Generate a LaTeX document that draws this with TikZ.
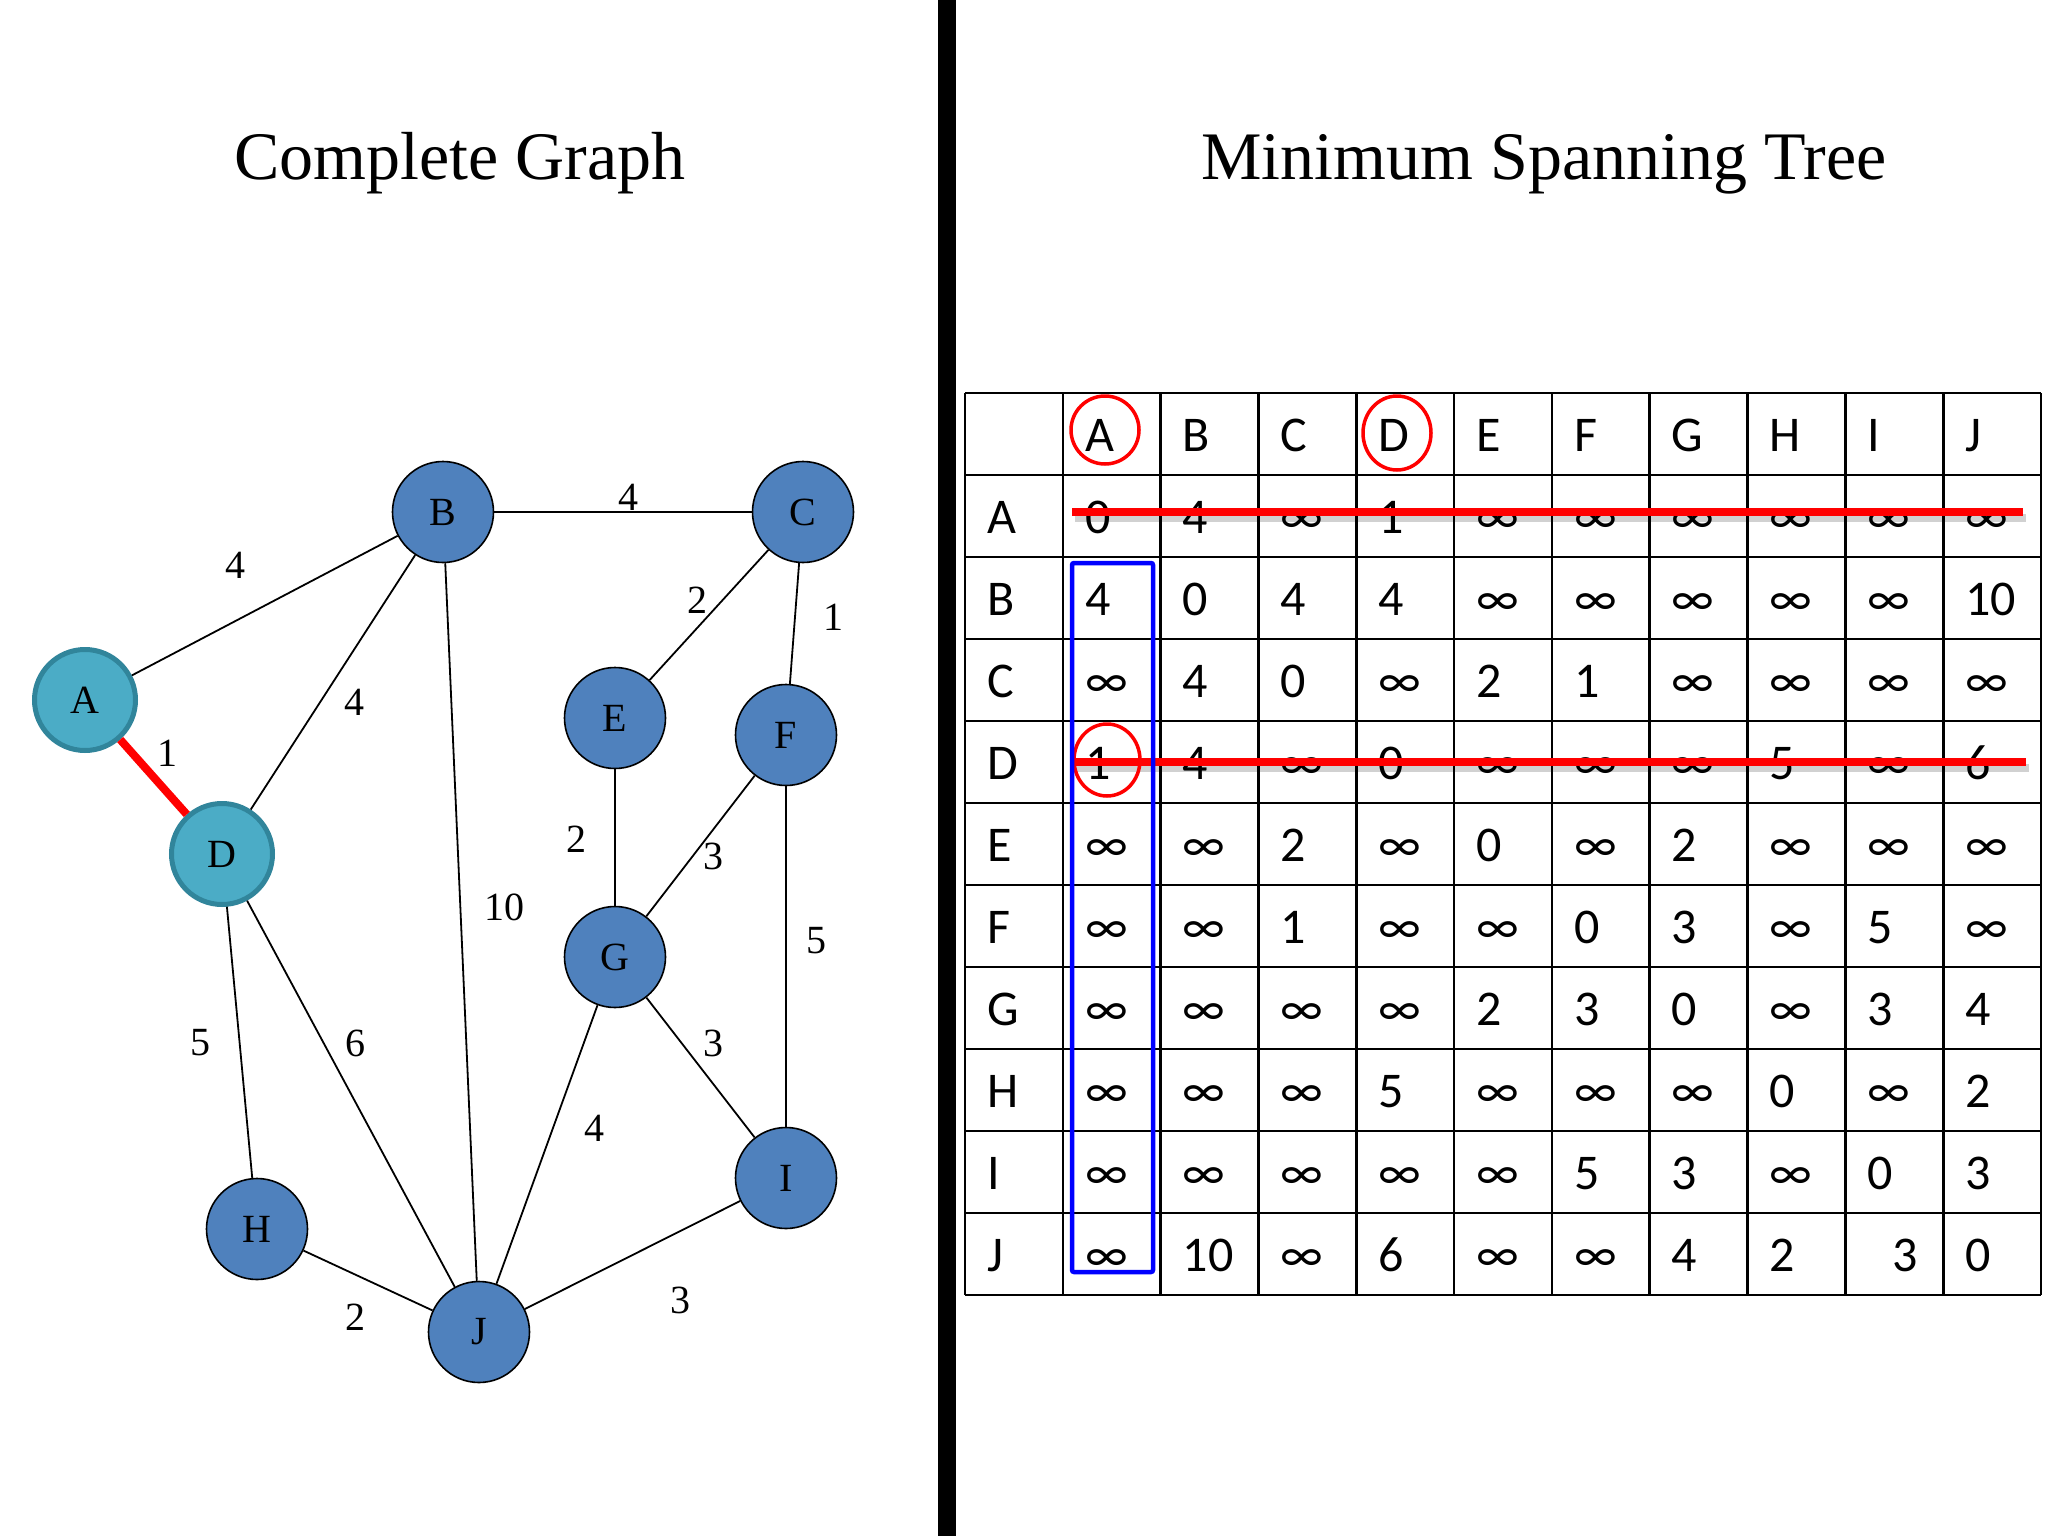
\documentclass[tikz,border=0pt]{standalone}
\usepackage{fontspec}
\usetikzlibrary{shapes.geometric}
\setmainfont{Liberation Serif}
\newfontfamily\tabfont{Carlito}
\newcommand\infsym{∞}
\definecolor{nodeblue}{RGB}{79,129,189}
\definecolor{nodeteal}{RGB}{75,172,198}
\definecolor{tealedge}{RGB}{49,133,155}
\definecolor{strikered}{RGB}{255,0,0}
\tikzset{
  gnode/.style={circle, minimum size=101pt, inner sep=0pt, fill=nodeblue, draw=black, line width=1.6pt, font=\fontsize{40}{48}\selectfont},
  tnode/.style={gnode, fill=nodeteal, draw=tealedge, line width=5pt},
  edge/.style={draw=black, line width=1.8pt},
  redge/.style={draw=strikered, line width=8pt},
  wlabel/.style={inner sep=0pt, font=\fontsize{40}{48}\selectfont},
  title/.style={anchor=base, inner sep=0pt, font=\fontsize{68}{80}\selectfont},
  cell/.style={anchor=base west, inner sep=0pt, font=\tabfont\fontsize{50}{60}\selectfont},
  grid/.style={draw=black, line width=2.6pt},
  strike/.style={draw=strikered, line width=8pt},
  shadowline/.style={draw=black, opacity=0.18, line width=8pt},
  ring/.style={draw=strikered, line width=3.5pt, ellipse, inner sep=0pt},
}
\begin{document}
\begin{tikzpicture}[x=1pt,y=-1pt]
\useasboundingbox[fill=white] (0,0) rectangle (2048,1536);
% divider
\fill[black] (938,0) rectangle (956,1536);
% titles
\node[title] (t1) at (460,179) {Complete Graph};
\node[title] (t2) at (1544,179) {Minimum Spanning Tree};
% graph nodes
\node[tnode] (A) at (85,700) {A};
\node[gnode] (B) at (443,512) {B};
\node[gnode] (C) at (803,512) {C};
\node[tnode] (D) at (222,854) {D};
\node[gnode] (E) at (615,718) {E};
\node[gnode] (F) at (786,735) {F};
\node[gnode] (G) at (615,957) {G};
\node[gnode] (H) at (257,1229) {H};
\node[gnode] (I) at (786,1178) {I};
\node[gnode] (J) at (479,1332) {J};
% edges
\draw[edge] (A) -- (B);
\draw[redge] (A) -- (D);
\draw[edge] (B) -- (C);
\draw[edge] (B) -- (D);
\draw[edge] (B) -- (J);
\draw[edge] (C) -- (E);
\draw[edge] (C) -- (F);
\draw[edge] (E) -- (G);
\draw[edge] (F) -- (G);
\draw[edge] (F) -- (I);
\draw[edge] (D) -- (H);
\draw[edge] (D) -- (J);
\draw[edge] (G) -- (I);
\draw[edge] (G) -- (J);
\draw[edge] (H) -- (J);
\draw[edge] (J) -- (I);
% edge labels
\node[wlabel] (lAB) at (235,565) {4};
\node[wlabel] (lAD) at (167,753) {1};
\node[wlabel] (lBC) at (628,497) {4};
\node[wlabel] (lBD) at (354,702) {4};
\node[wlabel] (lCE) at (697,600) {2};
\node[wlabel] (lCF) at (833,617) {1};
\node[wlabel] (lBJ) at (504,907) {10};
\node[wlabel] (lEG) at (576,839) {2};
\node[wlabel] (lFG) at (713,856) {3};
\node[wlabel] (lFI) at (816,941) {5};
\node[wlabel] (lDH) at (200,1043) {5};
\node[wlabel] (lDJ) at (355,1043) {6};
\node[wlabel] (lGI) at (713,1043) {3};
\node[wlabel] (lGJ) at (594,1128) {4};
\node[wlabel] (lHJ) at (355,1317) {2};
\node[wlabel] (lJI) at (680,1300) {3};
% table text
\foreach [count=\r from 0] \row in {
  {{},A,B,C,D,E,F,G,H,I,J},
  {A,0,4,\infsym,1,\infsym,\infsym,\infsym,\infsym,\infsym,\infsym},
  {B,4,0,4,4,\infsym,\infsym,\infsym,\infsym,\infsym,10},
  {C,\infsym,4,0,\infsym,2,1,\infsym,\infsym,\infsym,\infsym},
  {D,1,4,\infsym,0,\infsym,\infsym,\infsym,5,\infsym,6},
  {E,\infsym,\infsym,2,\infsym,0,\infsym,2,\infsym,\infsym,\infsym},
  {F,\infsym,\infsym,1,\infsym,\infsym,0,3,\infsym,5,\infsym},
  {G,\infsym,\infsym,\infsym,\infsym,2,3,0,\infsym,3,4},
  {H,\infsym,\infsym,\infsym,5,\infsym,\infsym,\infsym,0,\infsym,2},
  {I,\infsym,\infsym,\infsym,\infsym,\infsym,5,3,\infsym,0,3},
  {J,\infsym,10,\infsym,6,\infsym,\infsym,4,2,{\hspace*{25pt}3},0}} {
  \foreach [count=\c from 0] \v in \row {
    \node[cell] (cell-\r-\c) at ({965+97.818*\c+22},{393+82*\r+58}) {\v};
  }
}
% table grid
\foreach \k in {0,...,11} {
  \draw[grid] ({965+97.818*\k},393) -- ({965+97.818*\k},1295);
  \draw[grid] (965,{393+82*\k}) -- (2041,{393+82*\k});
}
% strike lines
\coordinate (sa1) at (1072,512);
\coordinate (sa2) at (2023,512);
\coordinate (sd1) at (1072,762);
\coordinate (sd2) at (2026,762);
\draw[shadowline] ([shift={(3,6)}]sa1) -- ([shift={(3,6)}]sa2);
\draw[shadowline] ([shift={(3,6)}]sd1) -- ([shift={(3,6)}]sd2);
\draw[strike] (sa1) -- (sa2);
\draw[strike] (sd1) -- (sd2);
% circles
\node[ring, minimum width=68pt, minimum height=68pt] (ringA) at (1105,430) {};
\node[ring, minimum width=68pt, minimum height=74pt] (ringD) at (1397,433) {};
\node[ring, minimum width=66pt, minimum height=72pt] (ringDA) at (1107,760) {};
% blue column box
\draw[draw=blue, line width=4.5pt, rounded corners=2pt] (1072,563) rectangle (1153,1272);
\end{tikzpicture}
\end{document}
